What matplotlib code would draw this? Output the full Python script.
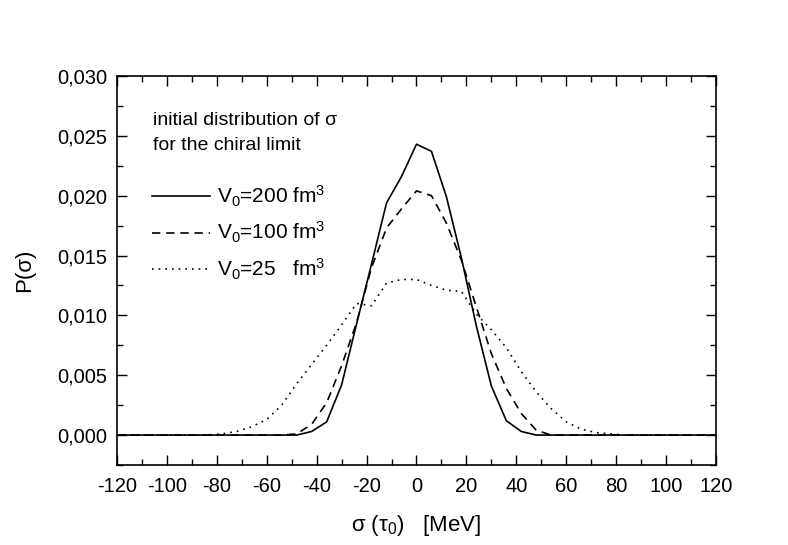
import numpy as np
import matplotlib
matplotlib.use('Agg')
import matplotlib.pyplot as plt
from matplotlib.ticker import MultipleLocator, FuncFormatter

plt.rcParams['font.family'] = ['Liberation Sans', 'DejaVu Sans']
plt.rcParams['mathtext.fontset'] = 'custom'
plt.rcParams['mathtext.rm'] = 'Liberation Sans'
plt.rcParams['mathtext.it'] = 'Liberation Sans:italic'
plt.rcParams['axes.unicode_minus'] = False

# sigma grid [MeV], step 6
sigma = [-120, -114, -108, -102, -96, -90, -84, -78, -72, -66, -60, -54,
         -48, -42, -36, -30, -24, -18, -12, -6, 0, 6, 12, 18, 24, 30, 36, 42, 48,
         54, 60, 66, 72, 78, 84, 90, 96, 102, 108, 114, 120]

# V0 = 200 fm^3
p_200 = [0, 0, 0, 0, 0, 0, 0, 0, 0, 0, 0, 0,
         0.0, 0.0003, 0.0011, 0.0042, 0.0093, 0.0143, 0.0194, 0.0216, 0.0243,
         0.0237, 0.0199, 0.0148, 0.0091, 0.0041, 0.0012, 0.0003, 0.0,
         0, 0, 0, 0, 0, 0, 0, 0, 0, 0, 0, 0]

# V0 = 100 fm^3
p_100 = [0, 0, 0, 0, 0, 0, 0, 0, 0, 0, 0, 0,
         0.0001, 0.0009, 0.0027, 0.0058, 0.0094, 0.0140, 0.0173, 0.0189, 0.0204,
         0.0200, 0.0177, 0.0146, 0.0107, 0.0068, 0.0039, 0.0018, 0.0004,
         0, 0, 0, 0, 0, 0, 0, 0, 0, 0, 0, 0]

# V0 = 25 fm^3
p_25 = [0, 0, 0, 0, 0, 0, 0, 0.0001, 0.0003, 0.0007, 0.0013, 0.0025,
        0.0043, 0.0059, 0.0075, 0.0092, 0.0110, 0.0108, 0.0127, 0.0130, 0.0130,
        0.0125, 0.0121, 0.0120, 0.0101, 0.0088, 0.0073, 0.0053, 0.0036,
        0.0022, 0.0011, 0.0005, 0.0002, 0.0001, 0, 0, 0, 0, 0, 0, 0]

labels = [r'V$_\mathregular{0}$=200 fm$^\mathregular{3}$',
          r'V$_\mathregular{0}$=100 fm$^\mathregular{3}$',
          r'V$_\mathregular{0}$=25   fm$^\mathregular{3}$']

fig = plt.figure(figsize=(7.88, 5.45), dpi=100)
ax = fig.add_axes([0.1485, 0.1468, 0.7601, 0.7138])

ax.plot(sigma, p_200, color='black', lw=1.2, ls='-', label=labels[0])
ax.plot(sigma, p_100, color='black', lw=1.2, ls=(0, (5, 3.5)), label=labels[1])
ax.plot(sigma, p_25, color='black', lw=1.2, ls=(0, (1, 3)), label=labels[2])

ax.set_xlim(-120, 120)
ax.set_ylim(-0.0025, 0.030)
ax.xaxis.set_major_locator(MultipleLocator(20))
ax.xaxis.set_minor_locator(MultipleLocator(10))
ax.yaxis.set_major_locator(MultipleLocator(0.005))
ax.yaxis.set_minor_locator(MultipleLocator(0.0025))
ax.yaxis.set_major_formatter(FuncFormatter(lambda v, p: ('%.3f' % v).replace('.', ',')))
ax.tick_params(which='both', direction='in', top=True, right=True, width=1.0)
ax.tick_params(which='major', length=7, labelsize=14.5)
ax.tick_params(axis='x', which='major', pad=9)
ax.tick_params(axis='y', which='major', pad=7)
ax.tick_params(which='minor', length=4)
for s in ax.spines.values():
    s.set_linewidth(1.2)

ax.set_xlabel('σ (τ$_\\mathregular{0}$)   [MeV]', fontsize=16, labelpad=12)
ax.set_ylabel('P(σ)', fontsize=16, labelpad=16)

ax.text(0.06, 0.885, 'initial distribution of σ', transform=ax.transAxes,
        fontsize=14, va='center')
ax.text(0.06, 0.82, 'for the chiral limit', transform=ax.transAxes,
        fontsize=14, va='center')

ax.legend(loc='upper left', bbox_to_anchor=(0.045, 0.745), frameon=False,
          fontsize=15, handlelength=2.75, handletextpad=0.35, labelspacing=0.55,
          borderaxespad=0)

fig.savefig('out.png', dpi=100)
